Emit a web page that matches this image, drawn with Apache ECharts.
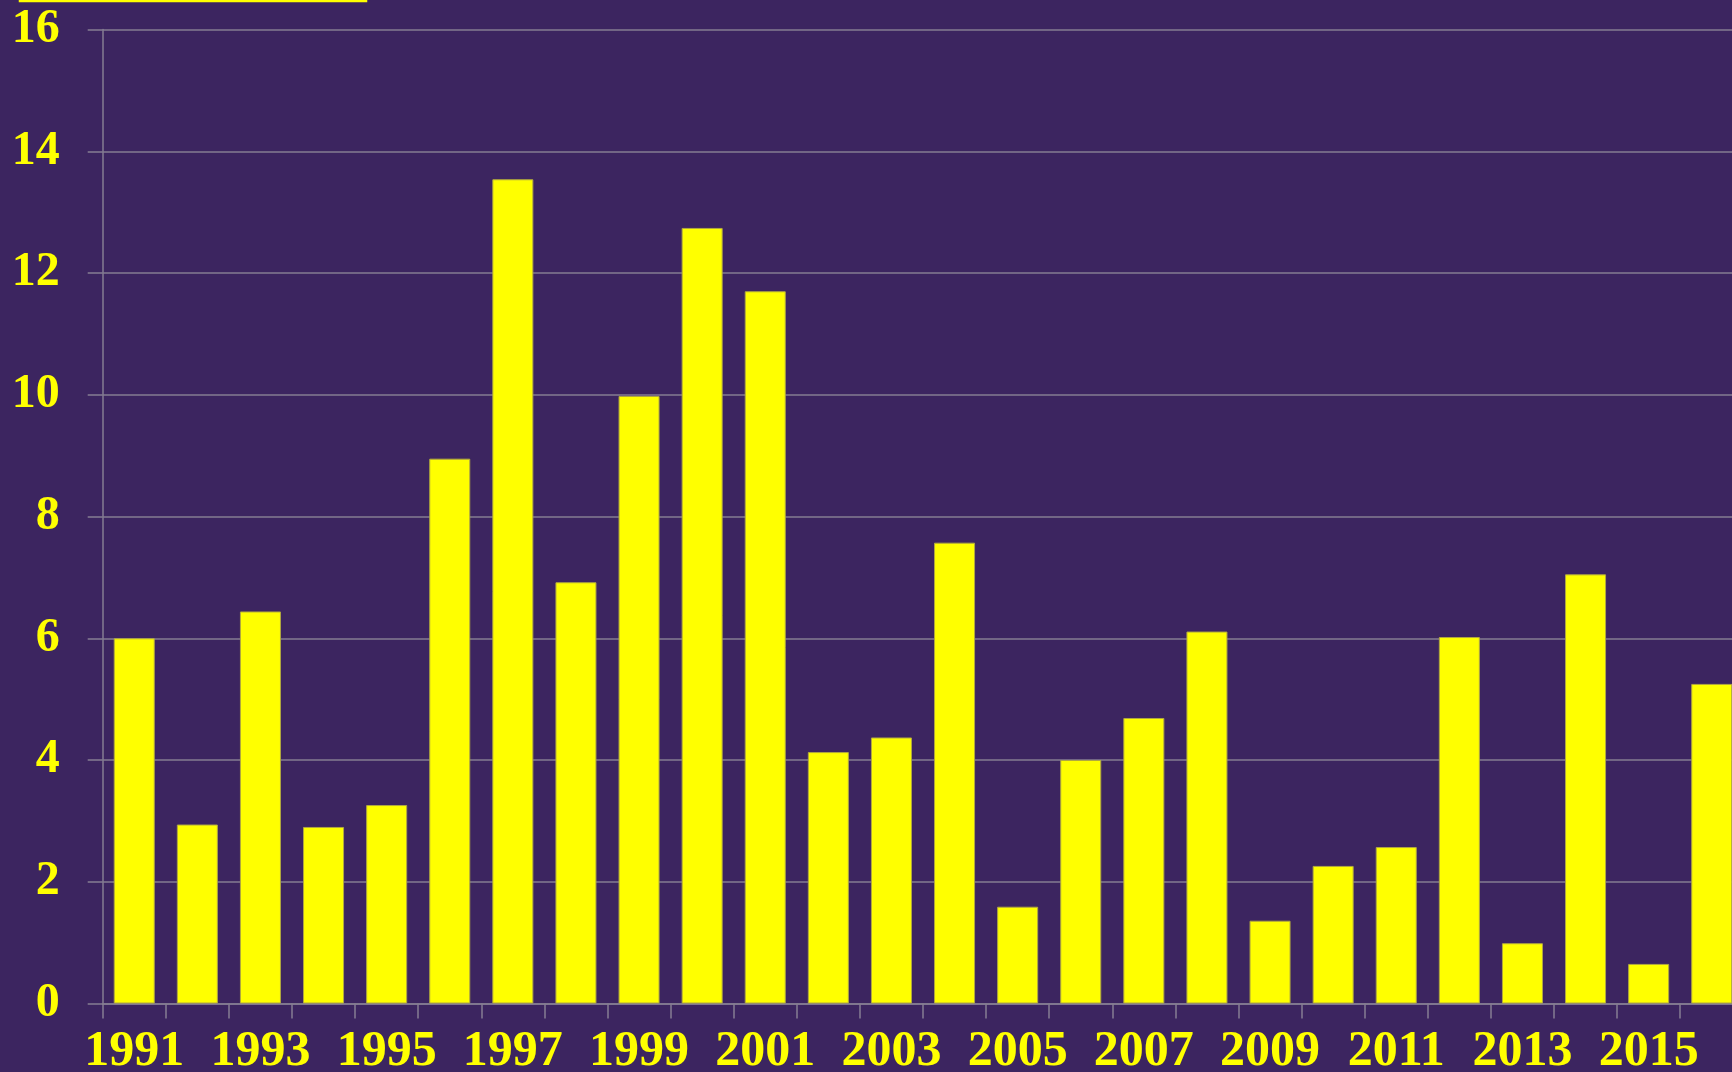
<!DOCTYPE html>
<html>
<head>
    <meta charset="utf-8">
    <title>ECharts</title>
    <script src="https://cdn.jsdelivr.net/npm/echarts@6/dist/echarts.min.js"></script>
    <style>
        html, body { margin: 0; padding: 0; background: #3c2560; }
    </style>
</head>
<body>
<div id="main" style="width: 1732px;height:1072px;"></div>
<script type="text/javascript">
    // years on the category axis
    var years = ['1991', '1992', '1993', '1994', '1995', '1996', '1997', '1998', '1999', '2000',
        '2001', '2002', '2003', '2004', '2005', '2006', '2007', '2008', '2009', '2010',
        '2011', '2012', '2013', '2014', '2015', '2016'];
    // bar heights
    var values = [6.0, 2.94, 6.44, 2.9, 3.26, 8.95, 13.54, 6.92, 9.98, 12.74,
        11.7, 4.13, 4.37, 7.57, 1.59, 4.0, 4.69, 6.11, 1.36, 2.26,
        2.57, 6.02, 0.99, 7.05, 0.65, 5.25];
    var yTicks = [0, 2, 4, 6, 8, 10, 12, 14, 16];

    var font = '"Liberation Serif", "DejaVu Serif", serif';
    var myChart = echarts.init(document.getElementById('main'));
    var option = {
        backgroundColor: '#3c2560',
        animation: false,
        // bottom edge of a box that sits above the picture
        graphic: [{
            type: 'rect',
            shape: {x: 20, y: -60, width: 346, height: 61},
            style: {fill: 'none', stroke: '#ffff00', lineWidth: 2.5}
        }],
        grid: {
            left: 102.7,
            top: 29.5,
            width: 1640.6,
            bottom: 68.5,
            containLabel: false,
            outerBoundsMode: 'none'
        },
        xAxis: {
            type: 'category',
            data: years,
            axisLine: {lineStyle: {color: '#857d92', width: 1.5}},
            axisTick: {show: true, length: 15, interval: 0, lineStyle: {color: '#857d92', width: 1.5}},
            axisLabel: {
                interval: 1,
                color: '#ffff00',
                fontFamily: font,
                fontWeight: 'bold',
                fontSize: 50,
                margin: 24
            }
        },
        yAxis: {
            type: 'value',
            min: yTicks[0],
            max: yTicks[yTicks.length - 1],
            interval: 2,
            axisLine: {show: true, lineStyle: {color: '#857d92', width: 1.5}},
            axisTick: {show: true, length: 15, lineStyle: {color: '#857d92', width: 1.5}},
            splitLine: {lineStyle: {color: '#857d92', width: 1.5}},
            axisLabel: {
                color: '#ffff00',
                fontFamily: font,
                fontWeight: 'bold',
                fontSize: 48,
                margin: 43
            }
        },
        series: [{
            type: 'bar',
            data: values,
            barWidth: '65%',
            itemStyle: {
                color: '#ffff00',
                borderColor: '#b0a840',
                borderWidth: 1
            }
        }]
    };
    myChart.setOption(option);
</script>
</body>
</html>
